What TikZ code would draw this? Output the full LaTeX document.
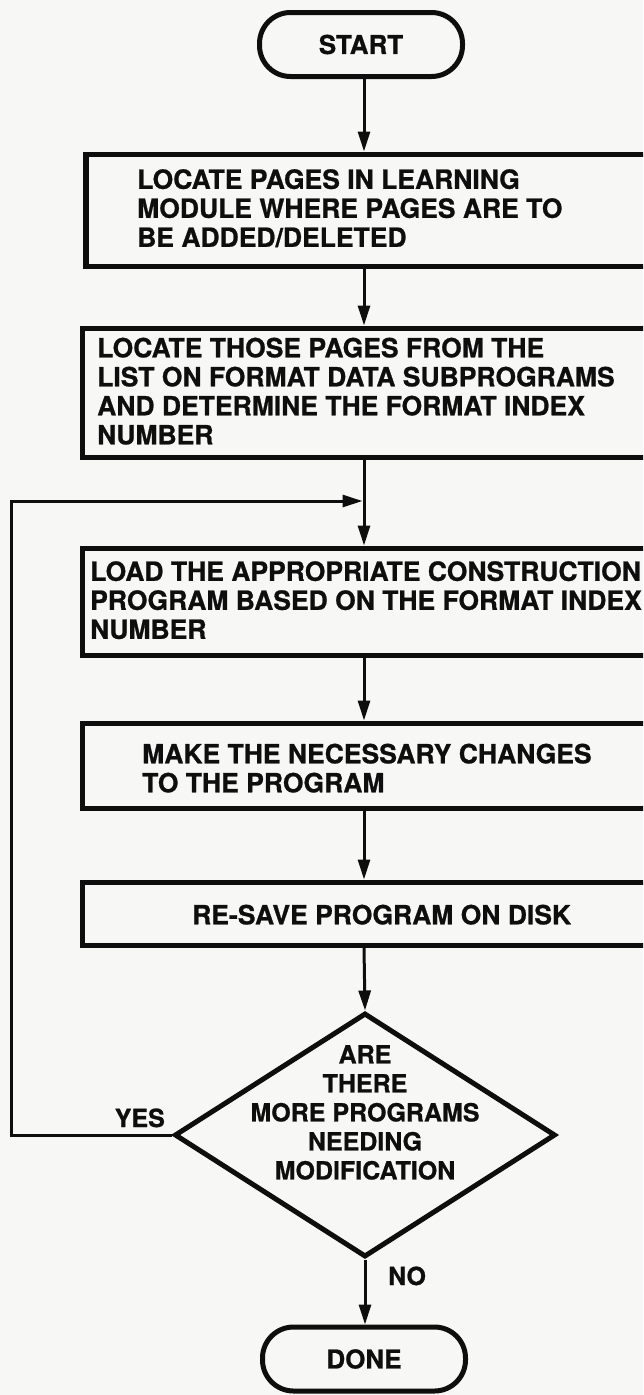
\documentclass[tikz,border=0pt]{standalone}
\usepackage{fontspec}
\setmainfont{TeX Gyre Heros}[BoldFeatures={FakeBold=0.8}]
\usetikzlibrary{arrows.meta,shapes.geometric}
\definecolor{paper}{RGB}{247,247,245}
\definecolor{ink}{RGB}{14,14,14}
\begin{document}
\begin{tikzpicture}[x=1pt,y=-1pt,
  boxframe/.style={draw=ink,line width=5.5pt,rectangle,anchor=north west,inner sep=0pt,minimum width=567pt},
  term/.style={draw=ink,line width=5pt,rectangle,rounded corners=31pt,minimum width=203pt,minimum height=64pt,inner sep=0pt,font=\bfseries\fontsize{26}{29}\selectfont,text=ink},
  decision/.style={draw=ink,line width=5pt,diamond,minimum width=381pt,minimum height=244pt,inner sep=0pt},
  flow/.style={draw=ink,line width=3pt,-{Triangle[length=20pt,width=12pt]}},
  txt/.style={font=\bfseries\fontsize{26.5}{29}\selectfont,align=left,anchor=north west,inner sep=0pt,text=ink},
  dtxt/.style={font=\bfseries\fontsize{25}{29}\selectfont,align=center,anchor=north,inner sep=0pt,text=ink},
  lbl/.style={font=\bfseries\fontsize{25}{29}\selectfont,inner sep=0pt,text=ink},
  ]
\useasboundingbox (0,0) rectangle (643,1395);
\fill[paper] (0,0) rectangle (643,1395);
\clip (0,0) rectangle (643,1395);

% shapes
\node[term] (start) at (361,44.5) {START};
\node[boxframe,minimum height=112pt] (b1) at (83,151.5) {};
\node[boxframe,minimum height=129pt] (b2) at (79.5,325.5) {};
\node[boxframe,minimum height=107pt] (b3) at (79.5,545.5) {};
\node[boxframe,minimum height=85pt] (b4) at (79.5,720.5) {};
\node[boxframe,minimum height=63pt] (b5) at (79.5,879.5) {};
\node[decision] (dec) at (365,1135) {};
\node[term] (done) at (364,1359) {DONE};

% texts
\node[txt] (t1) at (137,169) {LOCATE PAGES IN LEARNING\\MODULE WHERE PAGES ARE TO\\BE ADDED/DELETED};
\node[txt] (t2) at (97,337.5) {LOCATE THOSE PAGES FROM THE\\LIST ON FORMAT DATA SUBPROGRAMS\\AND DETERMINE THE FORMAT INDEX\\NUMBER};
\node[txt] (t3) at (90,561) {LOAD THE APPROPRIATE CONSTRUCTION\\PROGRAM BASED ON THE FORMAT INDEX\\NUMBER};
\node[txt] (t4) at (142,743.5) {MAKE THE NECESSARY CHANGES\\TO THE PROGRAM};
\node[txt] (t5) at (192,904.5) {RE-SAVE PROGRAM ON DISK};
\node[dtxt] (tdec) at (365,1045) {ARE\\THERE\\MORE PROGRAMS\\NEEDING\\MODIFICATION};
\node[lbl,anchor=base east] (yes) at (165,1127) {YES};
\node[lbl,anchor=base west] (no) at (388,1285) {NO};

% helper coordinates
\coordinate (spine) at (364,0);
\coordinate (loopx) at (11,0);
\coordinate (join) at (362.5,501);

% connectors
\draw[flow] (start.south -| spine) -- (b1.north -| spine);
\draw[flow] (b1.south -| spine) -- (b2.north -| spine);
\draw[flow] (b2.south -| spine) -- (b3.north -| spine);
\draw[flow] (b3.south -| spine) -- (b4.north -| spine);
\draw[flow] (b4.south -| spine) -- (b5.north -| spine);
\draw[flow] (b5.south -| spine) -- (dec.north);
\draw[flow] (dec.south) -- (done.north -| dec.south);
\draw[flow] (dec.west) -- (loopx |- dec.west) |- (join);
\end{tikzpicture}
\end{document}
